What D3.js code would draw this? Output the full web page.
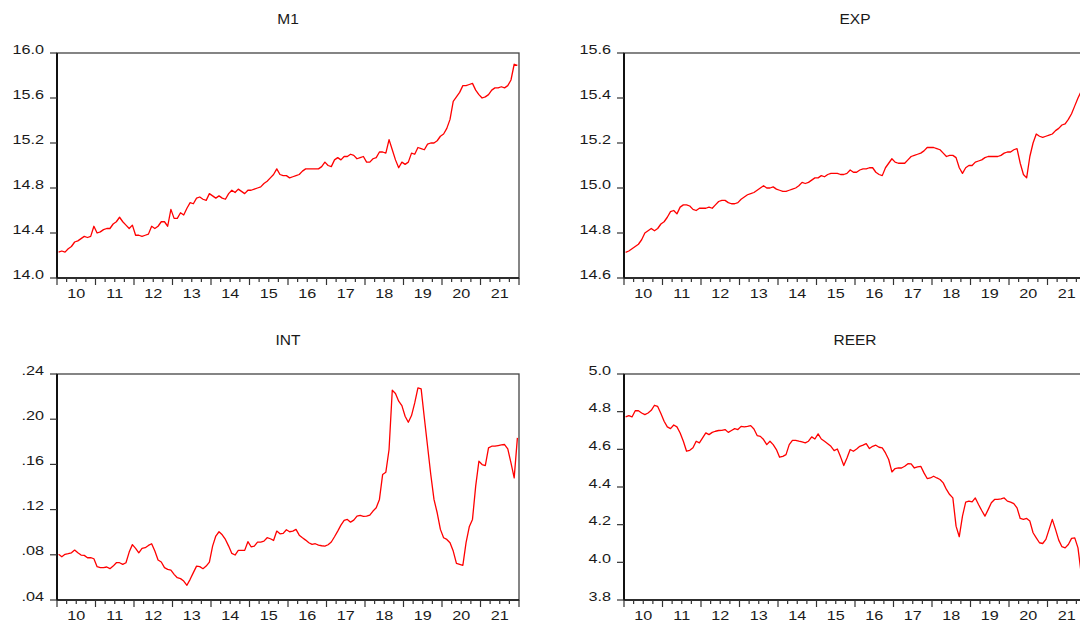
<!DOCTYPE html>
<html>
<head>
<meta charset="utf-8">
<script src="https://cdn.jsdelivr.net/npm/d3@7"></script>
<style>
  body { margin: 0; background: #fff; }
  text { font-family: "Liberation Sans", Arial, sans-serif; fill: #1a1a1a; }
</style>
</head>
<body>
<div id="chart"></div>
<script>
// monthly observations, 2010M01 - 2021M12
var yearLabels = ["10", "11", "12", "13", "14", "15", "16", "17", "18", "19", "20", "21"];

var m1Values = [
  14.23, 14.24, 14.23, 14.26, 14.28, 14.32, 14.33, 14.35, 14.37, 14.36, 14.37, 14.46,
  14.40, 14.41, 14.43, 14.44, 14.44, 14.48, 14.50, 14.54, 14.50, 14.47, 14.44, 14.47,
  14.38, 14.38, 14.37, 14.38, 14.39, 14.46, 14.44, 14.46, 14.50, 14.50, 14.46, 14.61,
  14.53, 14.53, 14.58, 14.56, 14.62, 14.67, 14.66, 14.71, 14.72, 14.70, 14.69, 14.75,
  14.73, 14.71, 14.73, 14.71, 14.70, 14.75, 14.78, 14.76, 14.79, 14.77, 14.75, 14.78,
  14.78, 14.79, 14.80, 14.81, 14.84, 14.86, 14.89, 14.92, 14.97, 14.92, 14.91, 14.91,
  14.89, 14.90, 14.91, 14.92, 14.95, 14.97, 14.97, 14.97, 14.97, 14.97, 14.99, 15.03,
  15.00, 14.99, 15.05, 15.07, 15.05, 15.08, 15.08, 15.10, 15.09, 15.06, 15.07, 15.08,
  15.03, 15.03, 15.06, 15.07, 15.12, 15.12, 15.11, 15.23, 15.14, 15.05, 14.98, 15.03,
  15.01, 15.03, 15.11, 15.10, 15.16, 15.15, 15.14, 15.19, 15.20, 15.20, 15.22, 15.26,
  15.28, 15.33, 15.41, 15.57, 15.61, 15.65, 15.71, 15.71, 15.72, 15.73, 15.67, 15.63,
  15.60, 15.61, 15.63, 15.67, 15.69, 15.69, 15.70, 15.69, 15.71, 15.76, 15.90, 15.89
];

var expValues = [
  14.714, 14.72, 14.73, 14.74, 14.75, 14.77, 14.80, 14.81, 14.82, 14.81, 14.82, 14.84,
  14.85, 14.87, 14.895, 14.90, 14.885, 14.915, 14.925, 14.925, 14.92, 14.905, 14.90, 14.91,
  14.91, 14.91, 14.915, 14.91, 14.925, 14.94, 14.945, 14.945, 14.935, 14.93, 14.93, 14.935,
  14.95, 14.96, 14.97, 14.975, 14.98, 14.99, 15.00, 15.01, 15.00, 15.00, 15.005, 14.995,
  14.99, 14.985, 14.985, 14.99, 14.995, 15.00, 15.01, 15.025, 15.02, 15.025, 15.035, 15.045,
  15.045, 15.055, 15.05, 15.06, 15.065, 15.065, 15.065, 15.06, 15.06, 15.065, 15.08, 15.07,
  15.07, 15.08, 15.085, 15.085, 15.09, 15.09, 15.07, 15.06, 15.055, 15.09, 15.11, 15.13,
  15.115, 15.11, 15.11, 15.11, 15.125, 15.14, 15.145, 15.15, 15.155, 15.165, 15.18, 15.18,
  15.18, 15.175, 15.17, 15.155, 15.14, 15.145, 15.145, 15.135, 15.09, 15.065, 15.09, 15.10,
  15.10, 15.115, 15.12, 15.125, 15.135, 15.14, 15.14, 15.14, 15.14, 15.145, 15.155, 15.16,
  15.16, 15.17, 15.175, 15.11, 15.06, 15.045, 15.14, 15.20, 15.24, 15.23, 15.225, 15.23,
  15.235, 15.24, 15.255, 15.265, 15.28, 15.285, 15.305, 15.33, 15.365, 15.40, 15.43, 15.46
];

var intValues = [
  0.0804, 0.0783, 0.0804, 0.0810, 0.0818, 0.0842, 0.0818, 0.0798, 0.0795, 0.0774, 0.0774, 0.0765,
  0.0695, 0.0686, 0.0686, 0.0692, 0.0677, 0.0700, 0.0730, 0.0730, 0.0715, 0.0730, 0.0824, 0.0890,
  0.0857, 0.0818, 0.0857, 0.0863, 0.0883, 0.0898, 0.0833, 0.0754, 0.0736, 0.0686, 0.0671, 0.0665,
  0.0627, 0.0597, 0.0589, 0.0568, 0.0530, 0.0583, 0.0642, 0.0700, 0.0695, 0.0677, 0.0700, 0.0736,
  0.0877, 0.0966, 0.1004, 0.0977, 0.0936, 0.0877, 0.0812, 0.0798, 0.0839, 0.0839, 0.0839, 0.0916,
  0.0871, 0.0877, 0.0913, 0.0913, 0.0921, 0.0951, 0.0942, 0.0927, 0.1010, 0.0986, 0.0989, 0.1022,
  0.1004, 0.1010, 0.1025, 0.0974, 0.0951, 0.0930, 0.0907, 0.0892, 0.0898, 0.0886, 0.0880, 0.0877,
  0.0889, 0.0913, 0.0960, 0.1010, 0.1063, 0.1104, 0.1113, 0.1089, 0.1107, 0.1142, 0.1148, 0.1140,
  0.1142, 0.1151, 0.1187, 0.1216, 0.1290, 0.1511, 0.1531, 0.1732, 0.2256, 0.2227, 0.2159, 0.2120,
  0.2026, 0.1973, 0.2032, 0.2144, 0.2277, 0.2268, 0.2011, 0.1761, 0.1511, 0.1290, 0.1172, 0.1025,
  0.0951, 0.0936, 0.0907, 0.0833, 0.0724, 0.0715, 0.0706, 0.0907, 0.1048, 0.1113, 0.1408, 0.1628,
  0.1599, 0.1590, 0.1746, 0.1761, 0.1761, 0.1767, 0.1772, 0.1776, 0.1737, 0.1614, 0.1481, 0.1835
];

var reerValues = [
  4.772, 4.779, 4.772, 4.805, 4.805, 4.793, 4.784, 4.793, 4.807, 4.834, 4.828, 4.790,
  4.749, 4.719, 4.710, 4.729, 4.719, 4.687, 4.643, 4.590, 4.595, 4.608, 4.643, 4.634,
  4.661, 4.687, 4.678, 4.690, 4.696, 4.700, 4.701, 4.705, 4.690, 4.700, 4.710, 4.705,
  4.722, 4.719, 4.722, 4.726, 4.708, 4.673, 4.669, 4.652, 4.625, 4.643, 4.625, 4.599,
  4.558, 4.563, 4.572, 4.625, 4.648, 4.648, 4.643, 4.639, 4.634, 4.643, 4.666, 4.655,
  4.682, 4.655, 4.643, 4.630, 4.616, 4.593, 4.602, 4.560, 4.514, 4.554, 4.599, 4.590,
  4.602, 4.616, 4.622, 4.630, 4.604, 4.616, 4.622, 4.611, 4.608, 4.581, 4.546, 4.480,
  4.498, 4.501, 4.501, 4.510, 4.524, 4.523, 4.501, 4.507, 4.510, 4.475, 4.445, 4.448,
  4.457, 4.448, 4.440, 4.422, 4.387, 4.360, 4.342, 4.192, 4.136, 4.245, 4.320, 4.325,
  4.321, 4.342, 4.307, 4.275, 4.245, 4.280, 4.316, 4.334, 4.334, 4.337, 4.342, 4.325,
  4.320, 4.312, 4.289, 4.233, 4.228, 4.233, 4.219, 4.157, 4.130, 4.104, 4.100, 4.122,
  4.175, 4.228, 4.175, 4.118, 4.083, 4.077, 4.095, 4.127, 4.130, 4.077, 3.940, 3.950
];

var m1Ticks = [14.0, 14.4, 14.8, 15.2, 15.6, 16.0];
var expTicks = [14.6, 14.8, 15.0, 15.2, 15.4, 15.6];
var intTicks = [0.04, 0.08, 0.12, 0.16, 0.20, 0.24];
var reerTicks = [3.8, 4.0, 4.2, 4.4, 4.6, 4.8, 5.0];

var fmt1 = d3.format(".1f");
var fmtInt = function(d) { return d3.format(".2f")(d).replace(/^0/, ""); };

var panels = [
  {title: "M1",   values: m1Values,   ticks: m1Ticks,   fmt: fmt1,   left: 57,  top: 53,  height: 225},
  {title: "EXP",  values: expValues,  ticks: expTicks,  fmt: fmt1,   left: 624, top: 53,  height: 225},
  {title: "INT",  values: intValues,  ticks: intTicks,  fmt: fmtInt, left: 57,  top: 374, height: 226},
  {title: "REER", values: reerValues, ticks: reerTicks, fmt: fmt1,   left: 624, top: 374, height: 226}
];

var width = 1080, height = 624, plotWidth = 462;
var labelStretch = 1.35;   // tick labels in the original are drawn wide

var svg = d3.select("#chart").append("svg")
    .attr("width", width)
    .attr("height", height);

panels.forEach(function(p) {
    var g = svg.append("g").attr("transform", "translate(" + p.left + "," + p.top + ")");
    var n = p.values.length;

    var x = d3.scaleLinear().domain([0, n]).range([0, plotWidth]);
    var y = d3.scaleLinear()
        .domain([p.ticks[0], p.ticks[p.ticks.length - 1]])
        .range([p.height, 0]);

    // title
    g.append("text")
        .attr("x", plotWidth / 2)
        .attr("y", -29)
        .attr("text-anchor", "middle")
        .style("font-size", "15.5px")
        .text(p.title);

    // frame: thin top/right, heavier left/bottom
    g.append("rect")
        .attr("width", plotWidth)
        .attr("height", p.height)
        .style("fill", "none")
        .style("stroke", "#444")
        .style("stroke-width", 1.3);

    g.append("line")
        .attr("x1", 0).attr("x2", 0).attr("y1", 0).attr("y2", p.height)
        .style("stroke", "#111").style("stroke-width", 2);
    g.append("line")
        .attr("x1", 0).attr("x2", plotWidth).attr("y1", p.height).attr("y2", p.height)
        .style("stroke", "#111").style("stroke-width", 1.6);

    // y ticks
    var yt = g.append("g").selectAll("g")
        .data(p.ticks)
        .enter().append("g")
        .attr("transform", function(d) { return "translate(0," + y(d) + ")"; });

    yt.append("line")
        .attr("x1", -7).attr("x2", 0)
        .style("stroke", "#333").style("stroke-width", 1.2);

    yt.append("text")
        .attr("transform", "translate(-13,0.5) scale(" + labelStretch + ",1)")
        .attr("text-anchor", "end")
        .style("font-size", "12px")
        .text(function(d) { return p.fmt(d); });

    // x ticks every quarter, longer at year start
    var xt = d3.range(0, n + 1, 3);
    g.append("g").selectAll("line")
        .data(xt)
        .enter().append("line")
        .attr("x1", function(d) { return x(d); })
        .attr("x2", function(d) { return x(d); })
        .attr("y1", p.height)
        .attr("y2", function(d) { return p.height + (d % 12 === 0 ? 7 : 4); })
        .style("stroke", "#333")
        .style("stroke-width", 1.2);

    g.append("g").selectAll("text")
        .data(yearLabels)
        .enter().append("text")
        .attr("transform", function(d, i) {
            return "translate(" + x(i * 12 + 6) + "," + (p.height + 20) + ") scale(" + labelStretch + ",1)";
        })
        .attr("text-anchor", "middle")
        .style("font-size", "12px")
        .text(function(d) { return d; });

    // series
    var line = d3.line()
        .x(function(d, i) { return x(i + 0.5); })
        .y(function(d) { return y(d); });

    g.append("path")
        .datum(p.values)
        .attr("d", line)
        .style("fill", "none")
        .style("stroke", "#ff0000")
        .style("stroke-width", 1.3)
        .style("stroke-linejoin", "round");
});
</script>
</body>
</html>
